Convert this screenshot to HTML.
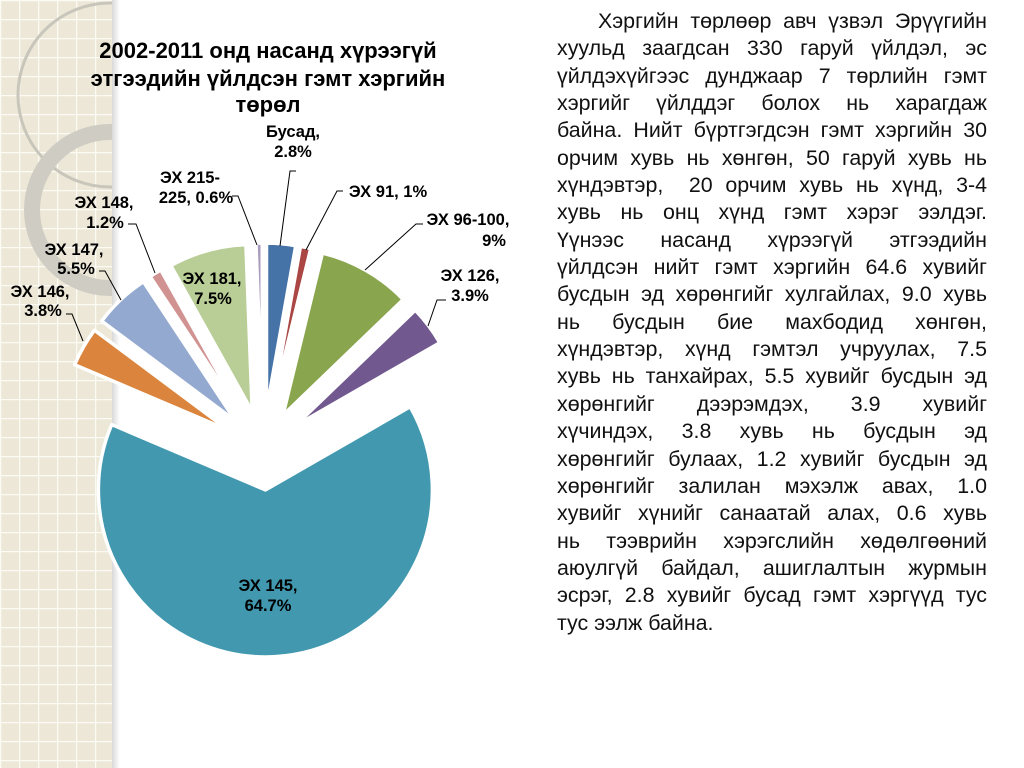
<!DOCTYPE html>
<html><head><meta charset="utf-8"><style>
html,body{margin:0;padding:0;background:#fff;}
body{width:1024px;height:768px;position:relative;overflow:hidden;font-family:"Liberation Sans",sans-serif;}
#bg{position:absolute;left:0;top:0;}
#para{position:absolute;left:557px;top:8px;width:430px;font-size:21.4px;line-height:27.35px;color:#111;}
#para div{text-align:justify;text-align-last:justify;white-space:nowrap;}
#para div.last{text-align-last:left;}
#para div.first{padding-left:41px;}
</style></head><body>
<svg id="bg" width="1024" height="768">
<defs>
<pattern id="grid" width="19" height="19" patternUnits="userSpaceOnUse">
<rect width="19" height="19" fill="#ece7d6"/>
<path d="M0 0.5H19M0.5 0V19" stroke="#fbfaf5" stroke-width="1.5"/>
</pattern>
<clipPath id="band"><rect x="0" y="0" width="112" height="768"/></clipPath>
<linearGradient id="sh" x1="0" x2="1"><stop offset="0" stop-color="#000" stop-opacity="0.15"/><stop offset="1" stop-color="#000" stop-opacity="0"/></linearGradient>
</defs>
<rect x="0" y="0" width="112" height="768" fill="url(#grid)"/>
<g clip-path="url(#band)">
<circle cx="110" cy="95" r="92" fill="none" stroke="#c8c5bb" stroke-width="3"/>
<circle cx="110" cy="210" r="78" fill="none" stroke="#cfccc3" stroke-width="16"/>
</g>
<rect x="112" y="0" width="8" height="768" fill="url(#sh)"/>
</svg>

<svg id="chart" width="1024" height="768" style="position:absolute;left:0;top:0">
<g font-family="Liberation Sans, sans-serif" font-weight="bold" fill="#000" text-anchor="middle">
<text x="268" y="58" font-size="22">2002-2011 онд насанд хүрээгүй</text>
<text x="268" y="86" font-size="22">этгээдийн үйлдсэн гэмт хэргийн</text>
<text x="268" y="112" font-size="22">төрөл</text>
</g>
<g id="slices"></g>
<g id="leaders" stroke="#000" stroke-width="1" fill="none"></g>
<g id="labels" font-family="Liberation Sans, sans-serif" font-weight="bold" font-size="16.5" text-anchor="middle"></g>
</svg>

<div id="para">
<div class="first">Хэргийн төрлөөр авч үзвэл Эрүүгийн</div>
<div>хуульд заагдсан 330 гаруй үйлдэл, эс</div>
<div>үйлдэхүйгээс дунджаар 7 төрлийн гэмт</div>
<div>хэргийг үйлддэг болох нь харагдаж</div>
<div>байна. Нийт бүртгэгдсэн гэмт хэргийн 30</div>
<div>орчим хувь нь хөнгөн, 50 гаруй хувь нь</div>
<div>хүндэвтэр,&nbsp; 20 орчим хувь нь хүнд, 3-4</div>
<div>хувь нь онц хүнд гэмт хэрэг ээлдэг.</div>
<div>Үүнээс насанд хүрээгүй этгээдийн</div>
<div>үйлдсэн нийт гэмт хэргийн 64.6 хувийг</div>
<div>бусдын эд хөрөнгийг хулгайлах, 9.0 хувь</div>
<div>нь бусдын бие махбодид хөнгөн,</div>
<div>хүндэвтэр, хүнд гэмтэл учруулах, 7.5</div>
<div>хувь нь танхайрах, 5.5 хувийг бусдын эд</div>
<div>хөрөнгийг дээрэмдэх, 3.9 хувийг</div>
<div>хүчиндэх, 3.8 хувь нь бусдын эд</div>
<div>хөрөнгийг булаах, 1.2 хувийг бусдын эд</div>
<div>хөрөнгийг залилан мэхэлж авах, 1.0</div>
<div>хувийг хүнийг санаатай алах, 0.6 хувь</div>
<div>нь тээврийн хэрэгслийн хөдөлгөөний</div>
<div>аюулгүй байдал, ашиглалтын журмын</div>
<div>эсрэг, 2.8 хувийг бусад гэмт хэргүүд тус</div>
<div class="last">тус ээлж байна.</div>
</div>

<script>
const categories = ["Бусад","ЭХ 91","ЭХ 96-100","ЭХ 126","ЭХ 145","ЭХ 146","ЭХ 147","ЭХ 148","ЭХ 181","ЭХ 215-225"];
const values = [2.8, 1, 9, 3.9, 64.7, 3.8, 5.5, 1.2, 7.5, 0.6];
const valueLabels = ["2.8%","1%","9%","3.9%","64.7%","3.8%","5.5%","1.2%","7.5%","0.6%"];
const colors = ["#4572a7","#aa4643","#89a54e","#71588f","#4198af","#db843d","#93a9cf","#d19392","#b9cd96","#a99bbd"];

const NS = "http://www.w3.org/2000/svg";
const cx = 263, cy = 450, r = 167, explode = 40;
const total = values.reduce((a,b)=>a+b,0);
function angleOf(v){ return v / total * 2 * Math.PI; }
function pt(x0,y0,rad,a){ return [x0 + rad*Math.sin(a), y0 - rad*Math.cos(a)]; }

const gS = document.getElementById('slices');
let start = 0;
values.forEach((v,i)=>{
  const sweep = angleOf(v);
  const mid = start + sweep/2;
  const ox = cx + explode*Math.sin(mid), oy = cy - explode*Math.cos(mid);
  const p1 = pt(ox,oy,r,start), p2 = pt(ox,oy,r,start+sweep);
  const large = sweep > Math.PI ? 1 : 0;
  const path = document.createElementNS(NS,'path');
  path.setAttribute('d',`M${ox},${oy} L${p1[0]},${p1[1]} A${r},${r} 0 ${large} 1 ${p2[0]},${p2[1]} Z`);
  path.setAttribute('fill',colors[i]);
  path.setAttribute('stroke','#fff');
  path.setAttribute('stroke-width','3.5');
  path.setAttribute('stroke-linejoin','round');
  
  
  gS.appendChild(path);
  start += sweep;
});

const labelPos = [
  [[293,131],[293,151]],
  [[388,191],null],
  [[468,219],[494,240]],
  [[470,275],[470,295]],
  [[268,585],[268,605]],
  [[40,291],[43,310]],
  [[74,249],[76,268]],
  [[104,202],[105,222]],
  [[212,278],[213,298]],
  [[190,177],[196,197]]
];
const leaderPts = [
  "296,171 290,171 280,246",
  "343,191 337,191 306,250",
  "423,224 416,224 365,270",
  "446,300 437,300 428,326",
  null,
  "66,314 72,314 83,341",
  "99,271 105,271 121,300",
  "128,224 136,224 155,273",
  null,
  "232,196 238,196 257,245"
];
const gL = document.getElementById('labels');
const gLd = document.getElementById('leaders');
categories.forEach((c,i)=>{
  const lp = labelPos[i];
  let line1, line2;
  if (i === 1) { line1 = c + ", " + valueLabels[i]; line2 = null; }
  else if (i === 9) { line1 = "ЭХ 215-"; line2 = "225, " + valueLabels[i]; }
  else { line1 = c + ","; line2 = valueLabels[i]; }
  const t1 = document.createElementNS(NS,'text');
  t1.setAttribute('x', lp[0][0]); t1.setAttribute('y', lp[0][1] + 6);
  t1.textContent = line1;
  
  
  gL.appendChild(t1);
  if (line2) {
    const t2 = document.createElementNS(NS,'text');
    t2.setAttribute('x', lp[1][0]); t2.setAttribute('y', lp[1][1] + 6);
    t2.textContent = line2;
    
    
    gL.appendChild(t2);
  }
  if (leaderPts[i]) {
    const pl = document.createElementNS(NS,'polyline');
    pl.setAttribute('points', leaderPts[i]);
    
    
    gLd.appendChild(pl);
  }
});
</script>
</body></html>
